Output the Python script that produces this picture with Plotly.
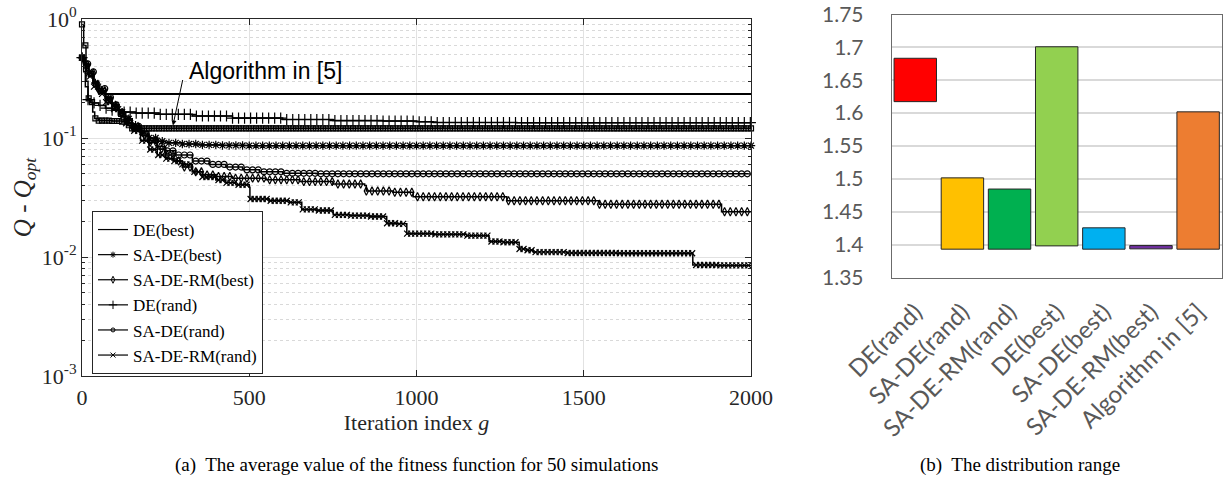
import numpy as np
import plotly.graph_objects as go

# ---------------- convergence curves (left panel) ----------------
# step breakpoints: iteration index and mean Q - Q_opt over 50 runs
de_best_it = [0, 5, 12, 20, 33, 45, 57, 68, 2000]
de_best_val = [0.473, 0.42, 0.37, 0.33, 0.29, 0.26, 0.242, 0.234, 0.234]

sade_best_it = [0, 10, 20, 35, 50, 70, 90, 110, 130, 150, 175, 200, 225, 250, 300, 350, 420, 500, 2000]
sade_best_val = [0.473, 0.41, 0.35, 0.29, 0.25, 0.215, 0.19, 0.165, 0.145, 0.128, 0.113, 0.100,
                 0.094, 0.091, 0.089, 0.0875, 0.0866, 0.0862, 0.0862]

saderm_best_it = [0, 10, 20, 35, 50, 70, 90, 110, 130, 150, 175, 200, 225, 250, 275, 300, 330, 360,
                  400, 450, 550, 650, 750, 845, 850, 930, 990, 1100, 1270, 1546, 1912, 2000]
saderm_best_val = [0.473, 0.41, 0.35, 0.29, 0.25, 0.21, 0.185, 0.16, 0.14, 0.122, 0.105, 0.092,
                   0.081, 0.072, 0.064, 0.057, 0.052, 0.049, 0.0475, 0.046, 0.0445, 0.043, 0.041,
                   0.0398, 0.0358, 0.0350, 0.0321, 0.0321, 0.0297, 0.0277, 0.0240, 0.0240]

de_rand_it = [0, 5, 10, 18, 30, 50, 70, 90, 120, 160, 230, 330, 450, 600, 750, 900, 1000, 1050, 1300, 2000]
de_rand_val = [0.473, 0.36, 0.27, 0.21, 0.197, 0.188, 0.178, 0.171, 0.165, 0.162, 0.158, 0.153,
               0.147, 0.143, 0.140, 0.139, 0.137, 0.135, 0.1345, 0.134]

sade_rand_it = [0, 10, 20, 35, 50, 70, 90, 110, 130, 150, 175, 200, 225, 250, 280, 330, 380, 430,
                480, 530, 600, 700, 2000]
sade_rand_val = [0.473, 0.42, 0.36, 0.30, 0.26, 0.22, 0.19, 0.165, 0.145, 0.125, 0.108, 0.095,
                 0.085, 0.078, 0.072, 0.064, 0.060, 0.057, 0.054, 0.052, 0.0505, 0.050, 0.050]

saderm_rand_it = [0, 10, 20, 35, 50, 70, 90, 110, 130, 150, 175, 200, 225, 250, 275, 300, 330, 360,
                  400, 430, 460, 500, 502, 560, 620, 657, 700, 751, 800, 860, 911, 940, 971, 1050,
                  1150, 1217, 1260, 1307, 1330, 1349, 1450, 1600, 1826, 1900, 2000]
saderm_rand_val = [0.473, 0.40, 0.33, 0.27, 0.235, 0.20, 0.175, 0.152, 0.133, 0.115, 0.095, 0.080,
                   0.072, 0.067, 0.064, 0.060, 0.052, 0.047, 0.0444, 0.042, 0.0405, 0.0385, 0.0307,
                   0.0297, 0.0288, 0.0251, 0.0246, 0.0226, 0.0223, 0.0219, 0.0192, 0.0190, 0.0157,
                   0.0155, 0.0151, 0.0135, 0.0133, 0.01167, 0.0114, 0.0110, 0.0108, 0.01075,
                   0.00857, 0.0085, 0.0084]

alg5_it = [0, 5, 12, 18, 25, 32, 38, 50, 90, 120, 135, 150, 2000]
alg5_val = [0.90, 0.60, 0.30, 0.215, 0.20, 0.165, 0.146, 0.140, 0.139, 0.137, 0.128, 0.1206, 0.1206]

legend_names = ["DE(best)", "SA-DE(best)", "SA-DE-RM(best)", "DE(rand)", "SA-DE(rand)", "SA-DE-RM(rand)"]

# ---------------- distribution ranges (right panel) ----------------
range_labels = ["DE(rand)", "SA-DE(rand)", "SA-DE-RM(rand)", "DE(best)",
                "SA-DE(best)", "SA-DE-RM(best)", "Algorithm in [5]"]
range_low = [1.6175, 1.393, 1.393, 1.398, 1.393, 1.3935, 1.393]
range_high = [1.6835, 1.5015, 1.4845, 1.701, 1.4255, 1.3985, 1.602]
range_colors = ["#FF0000", "#FFC000", "#00B050", "#92D050", "#00B0F0", "#7030A0", "#ED7D31"]

y_ticks_right = [1.35, 1.4, 1.45, 1.5, 1.55, 1.6, 1.65, 1.7, 1.75]
y_ticklabels_right = ["1.35", "1.4", "1.45", "1.5", "1.55", "1.6", "1.65", "1.7", "1.75"]

W, H = 1223, 486
SERIF = "Liberation Serif"
SANS = "Lato"
INK = "#262626"


def px_x(p):
    return p / W


def px_y(p):
    return 1 - p / H


def step_value(its, vals, at):
    """Value of a best-so-far step curve at the given iterations."""
    its = np.asarray(its)
    vals = np.asarray(vals)
    idx = np.searchsorted(its, np.asarray(at), side="right") - 1
    return vals[np.clip(idx, 0, len(vals) - 1)]


fig = go.Figure()

# (iterations, values, marker symbol, marker size, marker spacing, line width)
series = [
    (de_best_it, de_best_val, None, 0, 0, 2.0),
    (alg5_it, alg5_val, "square-open", 5, 10, 1.5),
    (de_rand_it, de_rand_val, "cross-thin-open", 8, 18, 1.5),
    (sade_best_it, sade_best_val, "asterisk-open", 7, 20, 1.5),
    (sade_rand_it, sade_rand_val, "circle-open", 6, 17, 1.5),
    (saderm_best_it, saderm_best_val, "diamond-tall-open", 6, 17, 1.5),
    (saderm_rand_it, saderm_rand_val, "x-thin-open", 6, 12, 1.5),
]

for its, vals, sym, size, every, lw in series:
    fig.add_trace(go.Scatter(
        x=its, y=vals, mode="lines", line=dict(color="black", width=lw, shape="hv"),
        showlegend=False, hoverinfo="skip", xaxis="x", yaxis="y"))
    if sym is not None:
        mx = np.arange(0, 2001, every)
        my = step_value(its, vals, mx)
        fig.add_trace(go.Scatter(
            x=mx, y=my, mode="markers", cliponaxis=False,
            marker=dict(symbol=sym, size=size, color="black",
                        line=dict(color="black", width=1.2)),
            showlegend=False, hoverinfo="skip", xaxis="x", yaxis="y"))

# legend entries in the order of the key box
legend_style = {
    "DE(best)": (None, 0),
    "SA-DE(best)": ("asterisk-open", 5),
    "SA-DE-RM(best)": ("diamond-tall-open", 5),
    "DE(rand)": ("cross-thin-open", 6),
    "SA-DE(rand)": ("circle-open", 4),
    "SA-DE-RM(rand)": ("x-thin-open", 5),
}
for name in legend_names:
    sym, size = legend_style[name]
    if sym is None:
        fig.add_trace(go.Scatter(x=[None], y=[None], mode="lines", name=name,
                                 line=dict(color="black", width=1.2), xaxis="x", yaxis="y"))
    else:
        fig.add_trace(go.Scatter(x=[None], y=[None], mode="lines+markers", name=name,
                                 line=dict(color="black", width=1.2),
                                 marker=dict(symbol=sym, size=size, color="black",
                                             line=dict(color="black", width=1)),
                                 xaxis="x", yaxis="y"))

# floating range bars
fig.add_trace(go.Bar(
    x=range_labels,
    y=[h - l for h, l in zip(range_high, range_low)],
    base=range_low,
    width=0.9,
    marker=dict(color=range_colors, line=dict(color=INK, width=1)),
    showlegend=False, hoverinfo="skip", xaxis="x2", yaxis="y2"))

minor_vals = [k * 10.0 ** d for d in range(-3, 0) for k in range(2, 10)]
alg_tip_it = 270
alg_tip_val = float(step_value(alg5_it, alg5_val, [alg_tip_it])[0])

fig.update_layout(
    template="none",
    width=W, height=H,
    margin=dict(l=0, r=0, t=0, b=0, pad=0),
    paper_bgcolor="white", plot_bgcolor="white",
    showlegend=True,
    legend=dict(x=px_x(92), y=px_y(211), xanchor="left", yanchor="top",
                bgcolor="white", bordercolor=INK, borderwidth=1,
                font=dict(family=SERIF, size=17, color="black"),
                tracegroupgap=0, itemwidth=30),
    xaxis=dict(domain=[px_x(82), px_x(751)], range=[0, 2000], anchor="y", automargin=False,
               tickvals=[0, 500, 1000, 1500, 2000],
               ticks="inside", ticklen=6, tickcolor=INK,
               showline=True, linecolor=INK, linewidth=1, mirror="ticks",
               showgrid=True, gridcolor="#e2e2e2", gridwidth=1, zeroline=False,
               tickfont=dict(family=SERIF, size=22, color=INK),
               ticklabelstandoff=2,
               title=dict(text="Iteration index <i>g</i>", standoff=0,
                          font=dict(family=SERIF, size=22, color=INK))),
    yaxis=dict(domain=[px_y(376), px_y(19)], type="log", range=[-3, 0], anchor="x",
               automargin=False,
               tickvals=[1e-3, 1e-2, 1e-1, 1],
               ticktext=["10<sup>-3</sup>", "10<sup>-2</sup>", "10<sup>-1</sup>", "10<sup>0</sup>"],
               ticks="inside", ticklen=6, tickcolor=INK,
               showline=True, linecolor=INK, linewidth=1, mirror="ticks",
               showgrid=True, gridcolor="#e2e2e2", gridwidth=1, zeroline=False,
               tickfont=dict(family=SERIF, size=22, color=INK),
               ticklabeloverflow="allow",
               minor=dict(tickmode="array", tickvals=minor_vals, ticks="inside", ticklen=3,
                          tickcolor=INK, showgrid=True, gridcolor="#d9d9d9",
                          griddash="dot", gridwidth=1),
               title=dict(text="<i>Q</i> - <i>Q</i><sub><i>opt</i></sub>", standoff=3,
                          font=dict(family=SERIF, size=25, color=INK))),
    xaxis2=dict(domain=[px_x(891.7), px_x(1221.7)], anchor="y2", automargin=False,
                showline=True, linecolor="#6b6b6b", linewidth=1, mirror=True,
                ticks="", tickangle=-45,
                tickfont=dict(family=SANS, size=24, color="#595959"),
                ticklabelstandoff=10, showgrid=False),
    yaxis2=dict(domain=[px_y(277.5), px_y(14.5)], anchor="x2", range=[1.3499, 1.7501],
                automargin=False,
                tickvals=y_ticks_right, ticktext=y_ticklabels_right,
                showline=True, linecolor="#6b6b6b", linewidth=1, mirror=True,
                showgrid=True, gridcolor="#d9d9d9", gridwidth=1.5, zeroline=False,
                ticks="", tickfont=dict(family=SANS, size=21, color="#595959"),
                ticklabeloverflow="allow",
                ticklabelstandoff=23),
    bargap=0.1,
    annotations=[
        dict(text="Algorithm in [5]", xref="paper", yref="paper",
             x=px_x(187), y=px_y(71), xanchor="left", yanchor="middle",
             showarrow=False, font=dict(family="Liberation Sans", size=23, color="black")),
        dict(text="", xref="x", yref="y", x=alg_tip_it, y=np.log10(alg_tip_val),
             axref="x", ayref="y", ax=302, ay=-0.50,
             showarrow=True, arrowhead=2, arrowsize=1, arrowwidth=1, arrowcolor="black",
             standoff=3),
        dict(text="(a)  The average value of the fitness function for 50 simulations",
             xref="paper", yref="paper", x=px_x(416), y=px_y(465),
             xanchor="center", yanchor="middle", showarrow=False,
             font=dict(family=SERIF, size=19, color="black")),
        dict(text="(b)  The distribution range",
             xref="paper", yref="paper", x=px_x(1019.5), y=px_y(465),
             xanchor="center", yanchor="middle", showarrow=False,
             font=dict(family=SERIF, size=19, color="black")),
    ],
)

fig.write_html("out.html")
